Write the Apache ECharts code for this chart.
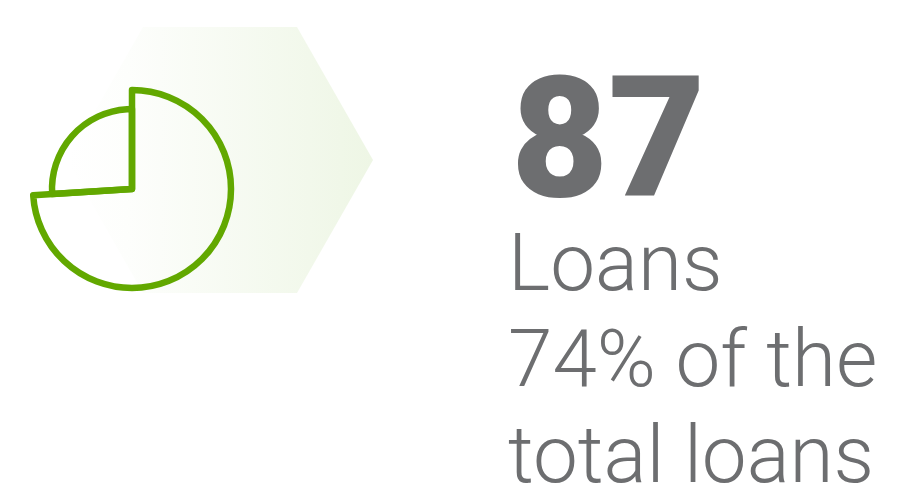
<!DOCTYPE html>
<html lang="en">
  <head>
    <meta charset="UTF-8" />
    <title>Loans</title>
    <script src="https://cdn.jsdelivr.net/npm/echarts@6/dist/echarts.min.js"></script>
    <style>
      html, body { margin: 0; padding: 0; background: #fff; }
      .echarts { width: 908px; height: 496px; }
    </style>
  </head>
  <body>
    <div class="echarts"></div>
    <script>
      // data
      const categories = ['Loans', 'Other']
      const shares = [74, 26]
      const loanCount = 87
      const captionLines = ['Loans', '74% of the', 'total loans']

      const green = '#62a800'
      const grey = '#6d6e70'

      const myCharts = echarts.init(document.querySelector('.echarts'))

      // two rings: big one draws the loans slice, small one the rest
      const slice = (showIndex) => categories.map((name, i) => ({
        name: name,
        value: shares[i],
        itemStyle: i === showIndex
          ? { color: 'transparent', borderColor: green, borderWidth: 6.5 }
          : { color: 'transparent', borderWidth: 0 }
      }))

      const pieBase = {
        type: 'pie',
        center: [132, 189],
        startAngle: 90,
        clockwise: true,
        silent: true,
        label: { show: false },
        labelLine: { show: false },
        emphasis: { disabled: true },
        animation: false
      }

      const option = {
        graphic: [
          {
            type: 'polygon',
            z: -10,
            shape: {
              points: [[143, 27], [297, 27], [373, 160], [297, 293], [143, 293], [67, 160]]
            },
            style: {
              fill: new echarts.graphic.LinearGradient(0, 0, 1, 0, [
                { offset: 0, color: '#ffffff' },
                { offset: 0.2, color: '#fdfefc' },
                { offset: 1, color: '#eef6e5' }
              ])
            }
          },
          {
            type: 'text',
            left: 511,
            top: 70,
            style: {
              text: String(loanCount),
              fontFamily: 'Roboto',
              fontWeight: 900,
              fontSize: 168,
              fill: grey
            }
          },
          ...captionLines.map((line, i) => ({
            type: 'text',
            left: 508,
            top: 230 + i * 96,
            style: {
              text: line,
              fontFamily: 'Roboto',
              fontWeight: 300,
              fontSize: 80,
              fill: grey
            }
          }))
        ],
        series: [
          Object.assign({}, pieBase, { radius: 99, data: slice(0) }),
          Object.assign({}, pieBase, { radius: 80, data: slice(1) })
        ]
      }
      myCharts.setOption(option)
    </script>
  </body>
</html>
